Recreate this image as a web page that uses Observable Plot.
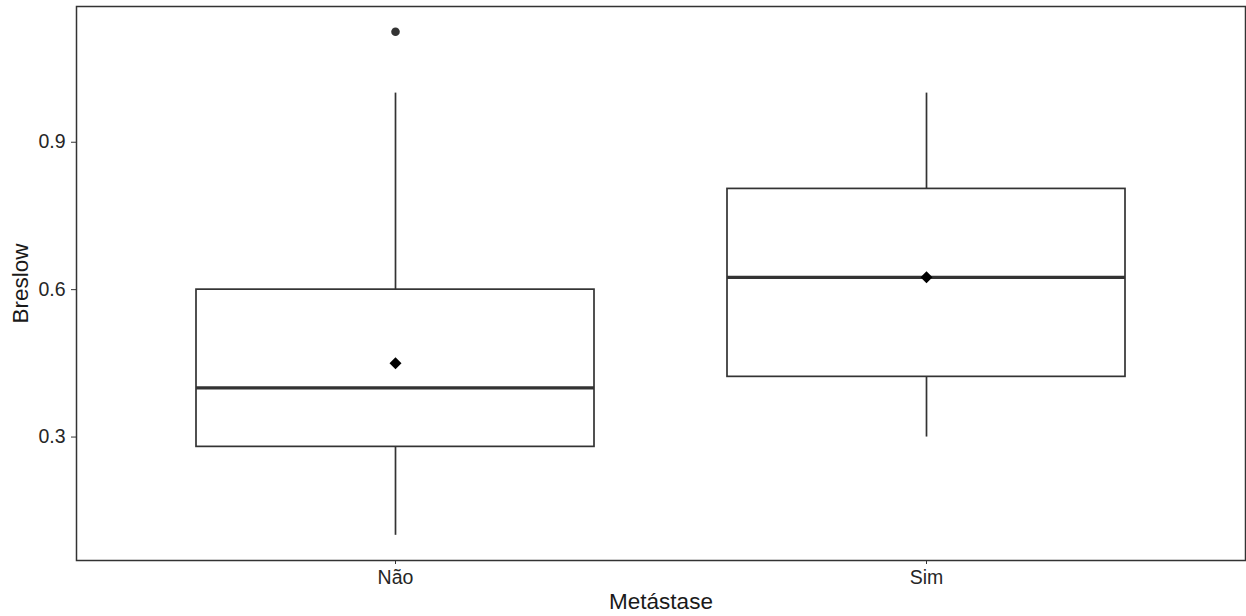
<!DOCTYPE html>
<html>
<head>
<meta charset="utf-8">
<script src="https://cdn.jsdelivr.net/npm/d3@7"></script>
<script src="https://cdn.jsdelivr.net/npm/@observablehq/plot@0.6"></script>
<style>
  html, body { margin: 0; padding: 0; background: #fff; }
  #chart svg { display: block; }
</style>
</head>
<body>
<div id="chart"></div>
<script>
// Box-plot summaries of Breslow thickness by metastasis status
const groups   = ["Não", "Sim"];
const lower    = [0.10, 0.30];   // lower whisker end
const q1       = [0.28, 0.4225]; // first quartile
const median   = [0.40, 0.625];
const q3       = [0.60, 0.805];  // third quartile
const upper    = [1.00, 1.00];   // upper whisker end
const means    = [0.45, 0.625];

// Points beyond the whiskers
const outlierGroups = ["Não"];
const outlierValues = [1.125];

const yTicks = [0.3, 0.6, 0.9];
const xTitle = "Metástase";
const yTitle = "Breslow";

const rows = groups.map((g, i) => ({
  group: g, lower: lower[i], q1: q1[i], median: median[i],
  q3: q3[i], upper: upper[i], mean: means[i]
}));
const outliers = outlierGroups.map((g, i) => ({group: g, value: outlierValues[i]}));

// y extent padded by 5% of the data range on both sides
const yMin = d3.min([...lower, ...outlierValues]);
const yMax = d3.max([...upper, ...outlierValues]);
const pad = (yMax - yMin) * 0.05;

const ink = "#333333";

const chart = Plot.plot({
  width: 1246,
  height: 616,
  marginTop: 6,
  marginLeft: 76,
  marginRight: 1,
  marginBottom: 56,
  style: {fontFamily: "'Liberation Sans', Arial, Helvetica, sans-serif", background: "#fff"},
  x: {type: "band", domain: groups, paddingInner: 0.25, paddingOuter: 0.225, align: 0.5},
  y: {domain: [yMin - pad, yMax + pad]},
  marks: [
    Plot.axisY({ticks: yTicks, tickFormat: d3.format(".1f"), tickSize: 5, tickPadding: 6,
                fontSize: 19.5, stroke: ink, fill: "#262626", label: null}),
    Plot.axisX({tickSize: 4, tickPadding: 6, fontSize: 19.5, stroke: ink, fill: "#262626", label: null}),
    // whiskers
    Plot.ruleX(rows, {x: "group", y1: "q3", y2: "upper", stroke: ink, strokeWidth: 1.7}),
    Plot.ruleX(rows, {x: "group", y1: "lower", y2: "q1", stroke: ink, strokeWidth: 1.7}),
    // boxes
    Plot.barY(rows, {x: "group", y1: "q1", y2: "q3", fill: "white", stroke: ink, strokeWidth: 1.7}),
    // medians
    Plot.tickY(rows, {x: "group", y: "median", stroke: ink, strokeWidth: 3.3}),
    // means
    Plot.dot(rows, {x: "group", y: "mean", symbol: "diamond2", fill: "black", stroke: "none", r: 5.4}),
    // outliers
    Plot.dot(outliers, {x: "group", y: "value", fill: ink, stroke: "none", r: 4.3}),
    Plot.frame({stroke: ink, strokeWidth: 1.5}),
    // axis titles
    Plot.text([yTitle], {text: d => d, frameAnchor: "left", dx: -56, rotate: -90,
                         fontSize: 22.5, fill: "#1a1a1a", textAnchor: "middle", lineAnchor: "middle"}),
    Plot.text([xTitle], {text: d => d, frameAnchor: "bottom", dy: 41,
                         fontSize: 22.5, fill: "#1a1a1a", textAnchor: "middle", lineAnchor: "middle"})
  ]
});

document.getElementById("chart").appendChild(chart);
</script>
</body>
</html>
